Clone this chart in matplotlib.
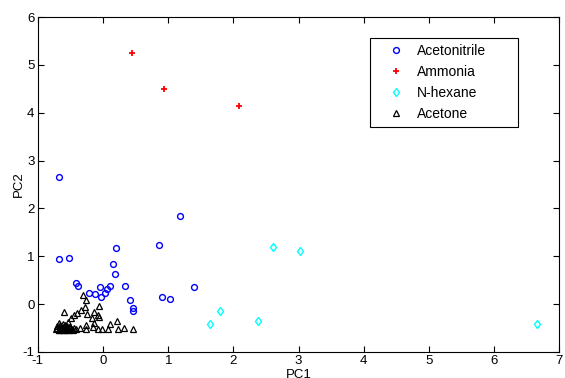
import matplotlib
matplotlib.use("Agg")
import matplotlib.pyplot as plt

plt.rcParams['font.family'] = ['Liberation Sans', 'DejaVu Sans']
plt.rcParams['axes.unicode_minus'] = False

acn_x = [-0.68, 1.18, 0.20, 0.86, -0.68, -0.52, 0.15, 0.18, -0.42, -0.38, -0.04, 0.11,
         0.34, 1.39, 0.06, 0.03, -0.22, -0.13, -0.03, 0.91, 1.02, 0.42, 0.46, 0.46]
acn_y = [2.65, 1.85, 1.17, 1.24, 0.95, 0.97, 0.84, 0.63, 0.44, 0.37, 0.35, 0.37,
         0.37, 0.36, 0.31, 0.23, 0.24, 0.22, 0.15, 0.15, 0.11, 0.08, -0.08, -0.14]

amm_x = [0.44, 0.94, 2.08]
amm_y = [5.25, 4.49, 4.14]

hex_x = [2.60, 3.02, 1.79, 1.64, 2.37, 6.66]
hex_y = [1.19, 1.11, -0.15, -0.42, -0.36, -0.42]

ace_x = [-0.30, -0.26, -0.06, -0.28, -0.60, -0.34, -0.40, -0.44, -0.25, -0.14, -0.08,
         -0.17, -0.06, -0.49, -0.54, 0.22, 0.11, -0.14, -0.26, -0.16, -0.67, -0.62,
         0.32, 0.46, 0.23, 0.08, -0.02, -0.08, -0.26, -0.36,
         -0.72, -0.70, -0.68, -0.66, -0.64, -0.62, -0.60, -0.58, -0.56, -0.54, -0.52,
         -0.50, -0.48, -0.46, -0.70, -0.66, -0.62, -0.58, -0.55, -0.50, -0.45, -0.42,
         -0.68, -0.64, -0.60, -0.56, -0.52]
ace_y = [0.19, 0.08, -0.04, -0.06, -0.16, -0.12, -0.18, -0.23, -0.21, -0.17, -0.23,
         -0.30, -0.28, -0.30, -0.37, -0.35, -0.42, -0.39, -0.44, -0.47, -0.39, -0.42,
         -0.49, -0.53, -0.53, -0.53, -0.53, -0.53, -0.53, -0.51,
         -0.53, -0.50, -0.55, -0.48, -0.53, -0.55, -0.50, -0.53, -0.55, -0.52, -0.54,
         -0.50, -0.53, -0.55, -0.45, -0.43, -0.47, -0.44, -0.46, -0.48, -0.49, -0.53,
         -0.55, -0.52, -0.54, -0.51, -0.47]

labels = ['Acetonitrile', 'Ammonia', 'N-hexane', 'Acetone']
xticks = [-1, 0, 1, 2, 3, 4, 5, 6, 7]
yticks = [-1, 0, 1, 2, 3, 4, 5, 6]

fig = plt.figure(figsize=(5.65, 3.78), dpi=100)
ax = fig.add_axes([0.067, 0.069, 0.923, 0.886])

ax.plot(acn_x, acn_y, 'o', mfc='none', mec='blue', ms=4.2, mew=1.0, label=labels[0])
ax.plot(amm_x, amm_y, '+', color='red', ms=4.5, mew=1.3, label=labels[1])
ax.plot(hex_x, hex_y, 'd', mfc='none', mec='cyan', ms=4.5, mew=1.0, label=labels[2])
ax.plot(ace_x, ace_y, '^', mfc='none', mec='black', ms=5, mew=0.9, label=labels[3])

ax.set_xlim(-1, 7)
ax.set_ylim(-1, 6)
ax.set_xticks(xticks)
ax.set_yticks(yticks)
ax.tick_params(direction='in', length=4, width=0.8, top=True, right=True,
               labelsize=9.5, colors='black', pad=2.5)
for s in ax.spines.values():
    s.set_linewidth(0.8)
    s.set_color('black')
ax.set_xlabel('PC1', fontsize=9.5, labelpad=1)
ax.set_ylabel('PC2', fontsize=9.5, labelpad=-2)

leg = ax.legend(loc='upper left', bbox_to_anchor=(0.637, 0.937, 0.284, 0.0),
                mode='expand', fontsize=10,
                frameon=True, fancybox=False, edgecolor='black', framealpha=1,
                borderpad=0.45, labelspacing=0.5, handlelength=2.8, handletextpad=0.15,
                borderaxespad=0)
leg.get_frame().set_linewidth(0.8)

fig.savefig('out.png', dpi=100)
